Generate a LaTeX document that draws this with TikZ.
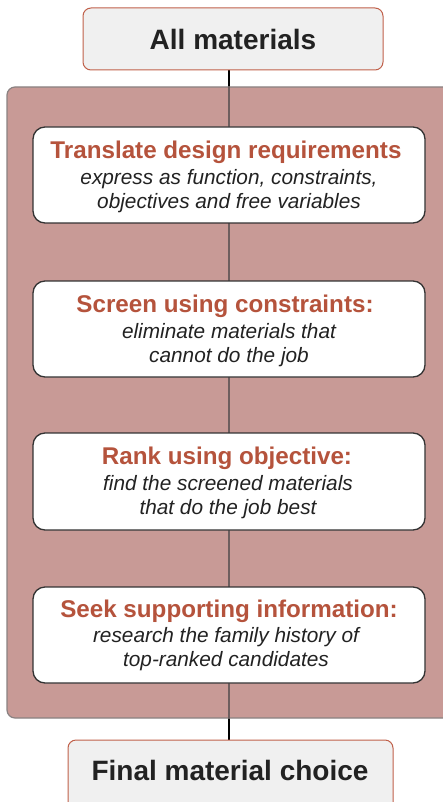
\documentclass[tikz,border=0pt]{standalone}
\usepackage{fontspec}
\setmainfont{Liberation Sans}
\begin{document}
\begin{tikzpicture}[x=1pt,y=-1pt,
  endbox/.style={draw=boxred, line width=1pt, fill=endfill, rounded corners=8pt},
  stepbox/.style={draw=stepdark, line width=1.3pt, fill=white, rounded corners=12pt},
  steptitle/.style={text=titlered, font=\bfseries\fontsize{24.2}{28}\selectfont},
  stepbody/.style={text=bodygray, font=\itshape\fontsize{20.8}{23.5}\selectfont, align=center},
  endtext/.style={text=bodygray, font=\bfseries\fontsize{28}{32}\selectfont}]
\definecolor{boxred}{HTML}{C0604A}
\definecolor{endfill}{HTML}{F0F0F0}
\definecolor{panelfill}{HTML}{C89A96}
\definecolor{panelborder}{HTML}{8A8282}
\definecolor{stepdark}{HTML}{333333}
\definecolor{titlered}{HTML}{B5533C}
\definecolor{bodygray}{HTML}{222222}
\definecolor{spine}{HTML}{6E5E5E}
\useasboundingbox (0,0) rectangle (443,802);
% spine outside the panel
\coordinate (spinetop) at (229,70);
\coordinate (spinebot) at (229,740);
\draw[line width=2.6pt, black] (spinetop) -- (spinebot);
% panel
\draw[draw=panelborder, line width=1.2pt, fill=panelfill, rounded corners=8pt] (7,87) rectangle (460,718);
\coordinate (ptop) at (229,87);
\coordinate (pbot) at (229,718);
\draw[line width=2.4pt, spine] (ptop) -- (pbot);
% end boxes
\draw[endbox] (83,8) rectangle (383,70);
\node[endtext] (top) at (233,39) {All materials};
\draw[endbox] (68,740) rectangle (393,812);
\node[endtext] (bot) at (230,770) {Final material choice};
% steps
\draw[stepbox] (33,127) rectangle (425,223);
\node[steptitle] (t1) at (226,152) {Translate design requirements};
\node[stepbody] (b1) at (229,191) {express as function, constraints,\\objectives and free variables};
\draw[stepbox] (33,281) rectangle (425,377);
\node[steptitle] (t2) at (225,306) {Screen using constraints:};
\node[stepbody] (b2) at (229,345) {eliminate materials that\\cannot do the job};
\draw[stepbox] (33,433) rectangle (425,530);
\node[steptitle] (t3) at (227,458) {Rank using objective:};
\node[stepbody] (b3) at (228,497) {find the screened materials\\that do the job best};
\draw[stepbox] (33,587) rectangle (425,683);
\node[steptitle] (t4) at (229,611) {Seek supporting information:};
\node[stepbody] (b4) at (226,649) {research the family history of\\top-ranked candidates};
\end{tikzpicture}
\end{document}
